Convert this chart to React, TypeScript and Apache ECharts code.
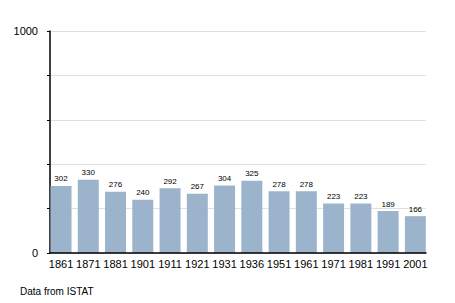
import React, { useEffect, useRef } from "react";
import * as echarts from "echarts";

const categories = ["1861", "1871", "1881", "1901", "1911", "1921", "1931", "1936", "1951", "1961", "1971", "1981", "1991", "2001"];
const population = [302, 330, 276, 240, 292, 267, 304, 325, 278, 278, 223, 223, 189, 166];
const yTickLabels = ["0", "1000"];

const FONT = "Liberation Sans, Arial, sans-serif";

export default function App() {
  const ref = useRef<HTMLDivElement>(null);
  useEffect(() => {
    if (!ref.current) return;
    const chart = echarts.init(ref.current, undefined, { renderer: "svg" });
    chart.setOption({
      animation: false,
      textStyle: { fontFamily: FONT },
      grid: [
        { left: 50, right: 29, top: 31, bottom: 50 },
        { left: 47.4, right: 26, top: 31, bottom: 50 },
      ],
      xAxis: [
        {
          type: "value",
          gridIndex: 0,
          min: 0,
          max: 1,
          z: 10,
          axisLine: { show: true, onZero: false, lineStyle: { color: "#000", width: 1.5 } },
          axisTick: { show: false },
          axisLabel: { show: false },
          splitLine: { show: false },
        },
        {
          type: "category",
          gridIndex: 1,
          data: categories,
          axisLine: { show: false },
          axisTick: { show: false },
          axisLabel: { color: "#000", fontSize: 11, margin: 5, interval: 0 },
        },
      ],
      yAxis: [
        {
          type: "value",
          gridIndex: 0,
          min: 0,
          max: 1000,
          interval: 200,
          axisLine: { show: true, lineStyle: { color: "#000", width: 1.5 } },
          axisTick: { show: true, length: 3, lineStyle: { color: "#000" } },
          splitLine: { lineStyle: { color: "#e0e0e0" } },
          axisLabel: {
            color: "#000",
            fontSize: 11,
            margin: 12,
            formatter: (v: number) => (yTickLabels.includes(String(v)) ? String(v) : ""),
          },
        },
        {
          type: "value",
          gridIndex: 1,
          min: 0,
          max: 1000,
          show: false,
        },
      ],
      series: [
        {
          type: "bar",
          xAxisIndex: 1,
          yAxisIndex: 1,
          data: population,
          barCategoryGap: "23%",
          itemStyle: { color: "#9bb4cc" },
          label: { show: true, position: "top", fontSize: 8, color: "#000", distance: 3 },
          z: 2,
        },
      ],
      graphic: [
        {
          type: "text",
          left: 20,
          top: 286,
          style: { text: "Data from ISTAT", fontSize: 10, fill: "#000", fontFamily: FONT },
        },
      ],
    });
    return () => chart.dispose();
  }, []);
  return <div ref={ref} style={{ width: 455, height: 303, position: "absolute", left: 0, top: 0 }} />;
}
